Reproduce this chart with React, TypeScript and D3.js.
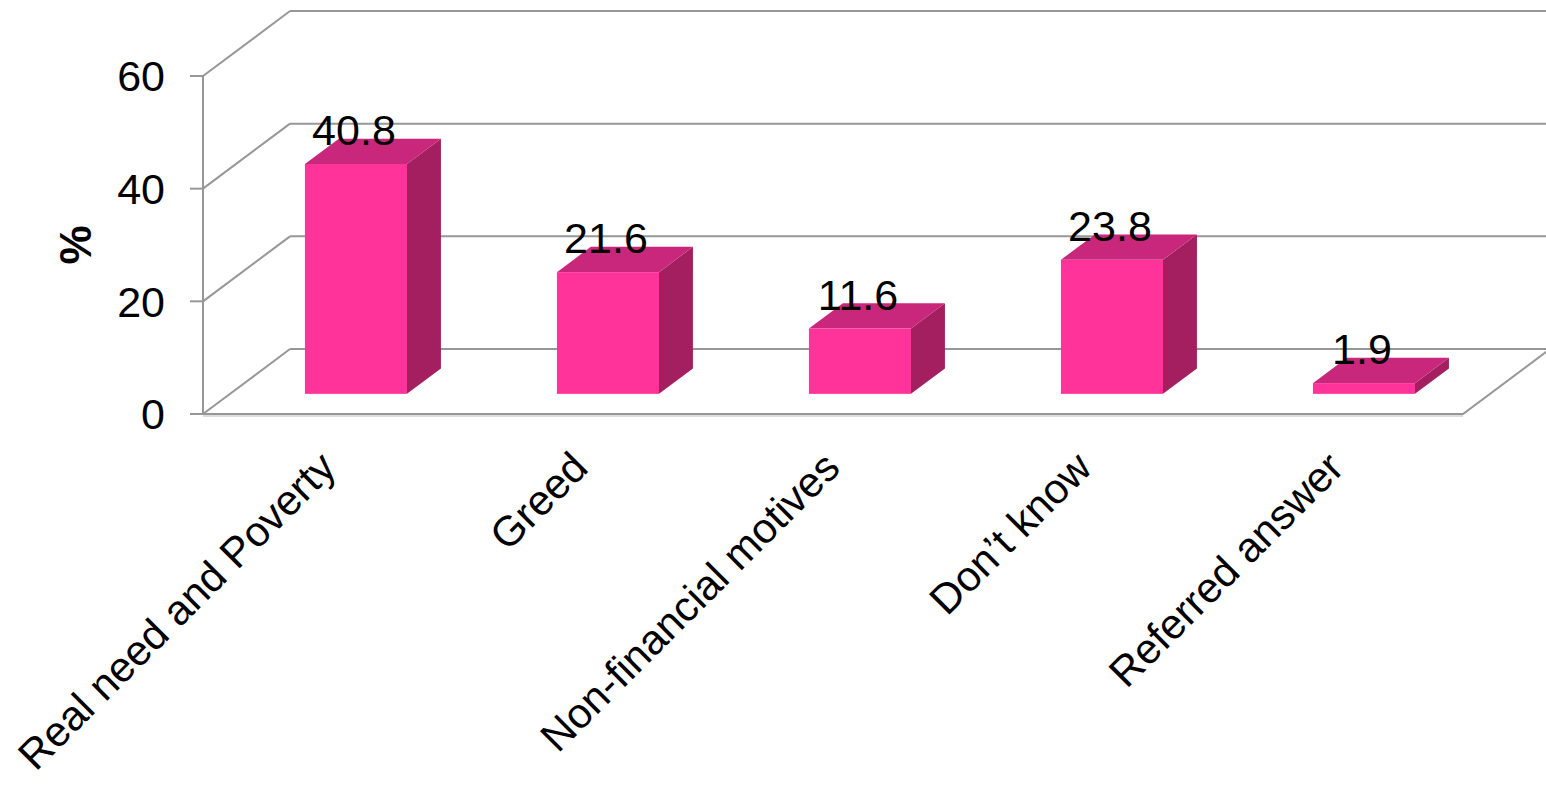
import React from "react";
import * as d3 from "d3";

const categories = ["Real need and Poverty", "Greed", "Non-financial motives", "Don’t know", "Referred answer"];
const values = [40.8, 21.6, 11.6, 23.8, 1.9];
const valueLabels = ["40.8", "21.6", "11.6", "23.8", "1.9"];
const yTicks = [0, 20, 40, 60];
const yTitle = "%";

const W = 1546;
const H = 786;
const FRONT_LEFT = 203;
const FRONT_RIGHT = 1463;
const FLOOR_Y = 414;
const TOP_Y = 76;
const DEPTH_DX = 87;
const DEPTH_DY = 65;
const BAR_T0 = 0.31;
const BAR_T1 = 0.7;
const BAR_FRAC = 0.405;

const FRONT = "#FF3399";
const TOP = "#C8277B";
const SIDE = "#A41F5F";
const GRID = "#979797";
const FONT = "'Liberation Sans', Arial, sans-serif";

export default function App() {
  const x = d3.scaleBand<string>().domain(categories).range([FRONT_LEFT, FRONT_RIGHT]).padding(0);
  const y = d3.scaleLinear().domain([0, 60]).range([FLOOR_Y, TOP_Y]);
  const bw = x.bandwidth() * BAR_FRAC;
  const ox0 = DEPTH_DX * BAR_T0;
  const oy0 = DEPTH_DY * BAR_T0;
  const ddx = DEPTH_DX * (BAR_T1 - BAR_T0);
  const ddy = DEPTH_DY * (BAR_T1 - BAR_T0);

  const line = d3.line<[number, number]>();

  return (
    <svg width={W} height={H} style={{ position: "absolute", left: 0, top: 0, background: "#fff" }}>
      {/* back wall gridlines and side wall diagonals */}
      {yTicks.map((t) => {
        const yf = y(t);
        return (
          <g key={t}>
            <path
              d={line([[FRONT_LEFT + DEPTH_DX, yf - DEPTH_DY], [W + 10, yf - DEPTH_DY]]) || ""}
              stroke={GRID}
              strokeWidth={2}
              fill="none"
            />
            <path
              d={line([[FRONT_LEFT, yf], [FRONT_LEFT + DEPTH_DX, yf - DEPTH_DY]]) || ""}
              stroke={GRID}
              strokeWidth={2}
              fill="none"
            />
            <path d={line([[FRONT_LEFT - 13, yf], [FRONT_LEFT, yf]]) || ""} stroke={GRID} strokeWidth={2} />
            <text
              x={165}
              y={yf}
              dy="0.36em"
              textAnchor="end"
              fontFamily={FONT}
              fontSize={43}
              fill="#000"
            >
              {t}
            </text>
          </g>
        );
      })}
      {/* floor front edge and right diagonal */}
      <path
        d={line([[FRONT_LEFT, FLOOR_Y + 2], [FRONT_RIGHT, FLOOR_Y + 2]]) || ""}
        stroke="#DDDDDD"
        strokeWidth={2}
      />
      <path
        d={line([[FRONT_LEFT, FLOOR_Y], [FRONT_RIGHT, FLOOR_Y], [FRONT_RIGHT + DEPTH_DX, FLOOR_Y - DEPTH_DY]]) || ""}
        stroke={GRID}
        strokeWidth={2}
        fill="none"
      />
      {/* front vertical axis */}
      <path d={line([[FRONT_LEFT, y(60)], [FRONT_LEFT, FLOOR_Y]]) || ""} stroke={GRID} strokeWidth={2} />

      {/* bars */}
      {categories.map((c, i) => {
        const cx = (x(c) as number) + x.bandwidth() / 2;
        const x0 = cx - bw / 2 + ox0;
        const x1 = cx + bw / 2 + ox0;
        const yb = FLOOR_Y - oy0;
        const yt = y(values[i]) - oy0;
        const top: [number, number][] = [[x0, yt], [x1, yt], [x1 + ddx, yt - ddy], [x0 + ddx, yt - ddy]];
        const side: [number, number][] = [[x1, yt], [x1 + ddx, yt - ddy], [x1 + ddx, yb - ddy], [x1, yb]];
        return (
          <g key={c}>
            <path d={(line(side) || "") + "Z"} fill={SIDE} />
            <path d={(line(top) || "") + "Z"} fill={TOP} />
            <rect x={x0} y={yt} width={x1 - x0} height={yb - yt} fill={FRONT} />
          </g>
        );
      })}

      {/* value labels */}
      {categories.map((c, i) => {
        const cx = (x(c) as number) + x.bandwidth() / 2 + ox0 - 2;
        const yt = y(values[i]) - oy0;
        return (
          <text key={c} x={cx} y={yt - 19} textAnchor="middle" fontFamily={FONT} fontSize={43} fill="#000">
            {valueLabels[i]}
          </text>
        );
      })}

      {/* category labels */}
      {categories.map((c) => {
        const cx = (x(c) as number) + x.bandwidth() / 2 + 9;
        return (
          <text
            key={c}
            transform={`translate(${cx},${470}) rotate(-45)`}
            textAnchor="end"
            fontFamily={FONT}
            fontSize={42}
            fill="#000"
          >
            {c}
          </text>
        );
      })}

      {/* y title */}
      <text
        transform={`translate(${91},${245}) rotate(-90)`}
        textAnchor="middle"
        fontFamily={FONT}
        fontSize={44}
        fontWeight="bold"
        fill="#000"
      >
        {yTitle}
      </text>
    </svg>
  );
}
